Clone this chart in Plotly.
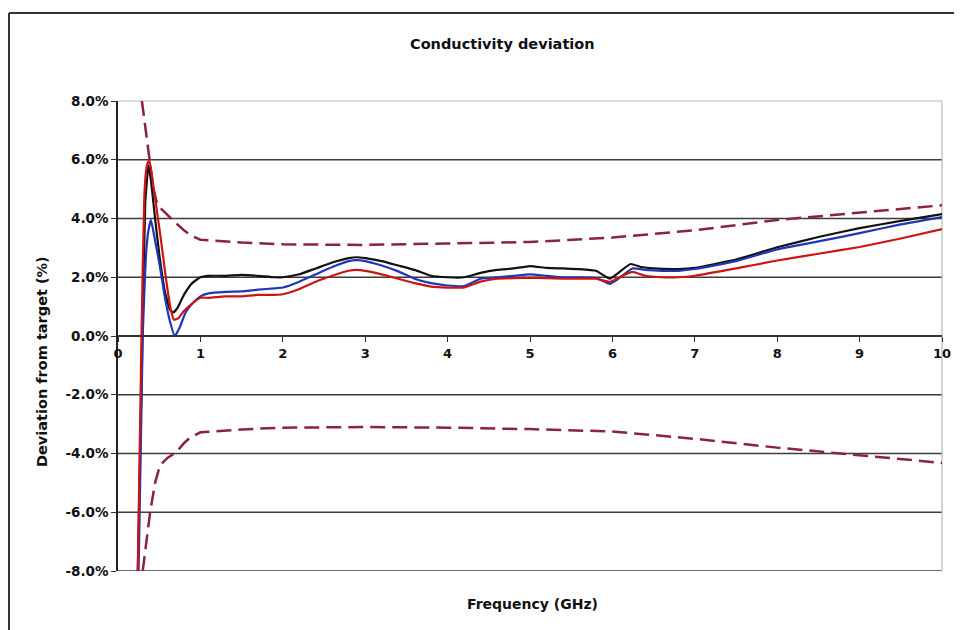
import plotly.graph_objects as go

# ---------------- data ----------------
BLACK_X = [0.24, 0.29, 0.33, 0.37, 0.40, 0.45, 0.50, 0.57, 0.63, 0.67, 0.72, 0.80, 0.90, 1.00,
           1.1, 1.3, 1.5, 1.7, 1.9, 2.0, 2.2, 2.4, 2.6, 2.8, 2.9, 3.0, 3.2, 3.4, 3.6, 3.8,
           4.0, 4.2, 4.4, 4.6, 4.8, 5.0, 5.2, 5.4, 5.6, 5.8, 5.97, 6.05, 6.22, 6.35, 6.5,
           6.8, 7.0, 7.5, 8.0, 8.5, 9.0, 9.5, 10.0]
BLACK_Y = [-8.0, -1.0, 4.5, 5.8, 5.3, 4.0, 2.8, 1.5, 0.9, 0.8, 0.95, 1.4, 1.8, 2.0,
           2.05, 2.05, 2.08, 2.05, 2.0, 2.0, 2.1, 2.3, 2.5, 2.65, 2.68, 2.65, 2.55, 2.4, 2.25, 2.05,
           2.0, 2.0, 2.15, 2.25, 2.3, 2.38, 2.32, 2.3, 2.28, 2.22, 1.95, 2.1, 2.45, 2.35, 2.3,
           2.28, 2.32, 2.6, 3.02, 3.37, 3.67, 3.92, 4.15]

BLUE_X = [0.25, 0.30, 0.34, 0.37, 0.40, 0.44, 0.50, 0.57, 0.63, 0.69, 0.75, 0.82, 0.90, 1.00,
          1.1, 1.3, 1.5, 1.7, 1.9, 2.0, 2.2, 2.4, 2.6, 2.8, 2.9, 3.0, 3.2, 3.4, 3.6, 3.8,
          4.0, 4.2, 4.4, 4.6, 4.8, 5.0, 5.2, 5.4, 5.6, 5.8, 5.97, 6.05, 6.24, 6.4, 6.6,
          6.8, 7.0, 7.5, 8.0, 8.5, 9.0, 9.5, 10.0]
BLUE_Y = [-8.0, 0.0, 2.8, 3.6, 3.95, 3.4, 2.5, 1.3, 0.5, 0.0, 0.3, 0.8, 1.1, 1.35,
          1.45, 1.5, 1.52, 1.58, 1.62, 1.65, 1.85, 2.1, 2.35, 2.55, 2.58, 2.55, 2.4, 2.2, 1.95, 1.8,
          1.72, 1.7, 1.95, 2.0, 2.05, 2.1, 2.05, 2.0, 2.0, 1.98, 1.77, 1.9, 2.3, 2.25, 2.22,
          2.22, 2.28, 2.55, 2.95, 3.22, 3.5, 3.8, 4.05]

RED_X = [0.24, 0.285, 0.32, 0.35, 0.38, 0.42, 0.47, 0.52, 0.58, 0.64, 0.68, 0.73, 0.80, 0.90, 1.00,
         1.1, 1.3, 1.5, 1.7, 1.9, 2.0, 2.2, 2.4, 2.6, 2.8, 2.9, 3.0, 3.2, 3.4, 3.6, 3.8,
         4.0, 4.2, 4.4, 4.6, 4.8, 5.0, 5.2, 5.4, 5.6, 5.8, 5.97, 6.05, 6.24, 6.4, 6.6,
         6.8, 7.0, 7.5, 8.0, 8.5, 9.0, 9.5, 10.0]
RED_Y = [-8.0, 0.0, 4.8, 5.8, 6.0, 5.3, 4.3, 3.3, 2.0, 0.9, 0.55, 0.6, 0.85, 1.1, 1.3,
         1.3, 1.35, 1.35, 1.4, 1.4, 1.42, 1.6, 1.85, 2.05, 2.22, 2.25, 2.22, 2.1, 1.95, 1.8, 1.68,
         1.65, 1.65, 1.85, 1.95, 1.97, 1.98, 1.97, 1.95, 1.95, 1.95, 1.84, 1.95, 2.18, 2.05, 2.0,
         2.0, 2.05, 2.3, 2.57, 2.8, 3.03, 3.32, 3.64]

UPPER_X = [0.29, 0.33, 0.38, 0.43, 0.48, 0.55, 0.62, 0.70, 0.80, 0.90, 1.0, 1.5, 2.0, 3.0,
           4.0, 5.0, 6.0, 7.0, 8.0, 9.0, 10.0]
UPPER_Y = [8.0, 7.1, 6.0, 5.0, 4.45, 4.25, 4.05, 3.85, 3.6, 3.4, 3.28, 3.18, 3.12, 3.1,
           3.15, 3.2, 3.35, 3.6, 3.95, 4.2, 4.45]

LOWER_X = [0.30, 0.35, 0.39, 0.45, 0.51, 0.60, 0.71, 0.80, 0.87, 1.0, 1.5, 2.0, 3.0,
           4.0, 5.0, 6.0, 7.0, 8.0, 9.0, 10.0]
LOWER_Y = [-8.0, -6.9, -6.0, -5.0, -4.4, -4.15, -3.95, -3.65, -3.47, -3.28, -3.18, -3.12, -3.1,
           -3.12, -3.17, -3.25, -3.5, -3.8, -4.05, -4.32]

X_TICKS = [0, 1, 2, 3, 4, 5, 6, 7, 8, 9, 10]
Y_TICKS = [8, 6, 4, 2, 0, -2, -4, -6, -8]
Y_TICK_LABELS = ["8.0%", "6.0%", "4.0%", "2.0%", "0.0%", "-2.0%", "-4.0%", "-6.0%", "-8.0%"]
GRID_VALUES = [6, 4, 2, -2, -4, -6, -8]

TITLE = "Conductivity deviation"
X_TITLE = "Frequency (GHz)"
Y_TITLE = "Deviation from target (%)"

# ---------------- figure ----------------
FONT = "DejaVu Sans, Liberation Sans, Arial, sans-serif"
LIMIT_COLOR = "#8a2242"
dash = "15px,7px"

fig = go.Figure()
fig.add_trace(go.Scatter(x=UPPER_X, y=UPPER_Y, mode="lines",
                         line=dict(color=LIMIT_COLOR, width=2.5, dash=dash)))
fig.add_trace(go.Scatter(x=LOWER_X, y=LOWER_Y, mode="lines",
                         line=dict(color=LIMIT_COLOR, width=2.5, dash=dash)))
fig.add_trace(go.Scatter(x=BLACK_X, y=BLACK_Y, mode="lines",
                         line=dict(color="#111111", width=2.2, shape="spline", smoothing=0.4)))
fig.add_trace(go.Scatter(x=BLUE_X, y=BLUE_Y, mode="lines",
                         line=dict(color="#1f36b8", width=2.2, shape="spline", smoothing=0.4)))
fig.add_trace(go.Scatter(x=RED_X, y=RED_Y, mode="lines",
                         line=dict(color="#cc1414", width=2.2, shape="spline", smoothing=0.4)))

# gridlines
for v in GRID_VALUES:
    fig.add_shape(type="line", xref="paper", x0=0, x1=1, yref="y", y0=v, y1=v,
                  line=dict(color="#3c3c3c", width=1.6), layer="between")
# light plot-area border (top & right)
fig.add_shape(type="line", xref="paper", x0=0, x1=1, yref="paper", y0=1, y1=1,
              line=dict(color="#b8b8b8", width=1.2), layer="between")
fig.add_shape(type="line", xref="paper", x0=1, x1=1, yref="paper", y0=0, y1=1,
              line=dict(color="#b8b8b8", width=1.2), layer="between")

# page body has an 8px margin -> figure is laid out 8px up/left of screen coordinates
OFF = 8
W, H = 962 - OFF, 630 - OFF
L, R, T, B = 118 - OFF, 942 - OFF, 101 - OFF, 571 - OFF
def px(x):
    return (x - OFF - L) / (R - L)
def py(y):
    return (B - (y - OFF)) / (B - T)

# outer chart frame (top & left visible in the scan)
fig.add_shape(type="line", xref="paper", yref="paper", x0=px(9), x1=px(975), y0=py(13), y1=py(13),
              line=dict(color="#333333", width=2), layer="above")
fig.add_shape(type="line", xref="paper", yref="paper", x0=px(9), x1=px(9), y0=py(13), y1=py(640),
              line=dict(color="#333333", width=2), layer="above")

bold = dict(family=FONT, size=14, color="#111111")
fig.add_annotation(text="<b>" + TITLE + "</b>", xref="paper", yref="paper",
                   x=px(502), y=py(44), xanchor="center", yanchor="middle",
                   showarrow=False, font=dict(family=FONT, size=14.5, color="#111111"))
fig.add_annotation(text="<b>" + X_TITLE + "</b>", xref="paper", yref="paper",
                   x=px(532), y=py(604), xanchor="center", yanchor="middle",
                   showarrow=False, font=bold)
fig.add_annotation(text="<b>" + Y_TITLE + "</b>", xref="paper", yref="paper",
                   x=px(42), y=py(362), xanchor="center", yanchor="middle",
                   showarrow=False, font=dict(family=FONT, size=14.5, color="#111111"),
                   textangle=-90)

fig.update_layout(
    width=W, height=H,
    margin=dict(l=L, r=W - R, t=T, b=H - B),
    paper_bgcolor="white", plot_bgcolor="white",
    showlegend=False,
    font=dict(family=FONT, size=13, color="#111111"),
    xaxis=dict(range=[0, 10], tickvals=X_TICKS, ticktext=["<b>%d</b>" % v for v in X_TICKS],
               anchor="free", position=0.5,
               showgrid=False, zeroline=False, showline=True, linecolor="#333333", linewidth=2,
               ticks="outside", ticklen=5, tickwidth=1.2, tickcolor="#333333",
               tickfont=dict(family=FONT, size=13, color="#111111")),
    yaxis=dict(range=[-8, 8], tickvals=Y_TICKS, ticktext=["<b>%s</b>" % s for s in Y_TICK_LABELS],
               showgrid=False, zeroline=False, showline=True, linecolor="#222222", linewidth=1.6,
               ticks="outside", ticklen=5, tickwidth=1.2, tickcolor="#333333",
               tickfont=dict(family=FONT, size=13.5, color="#111111")),
)

fig.write_html("out.html")
